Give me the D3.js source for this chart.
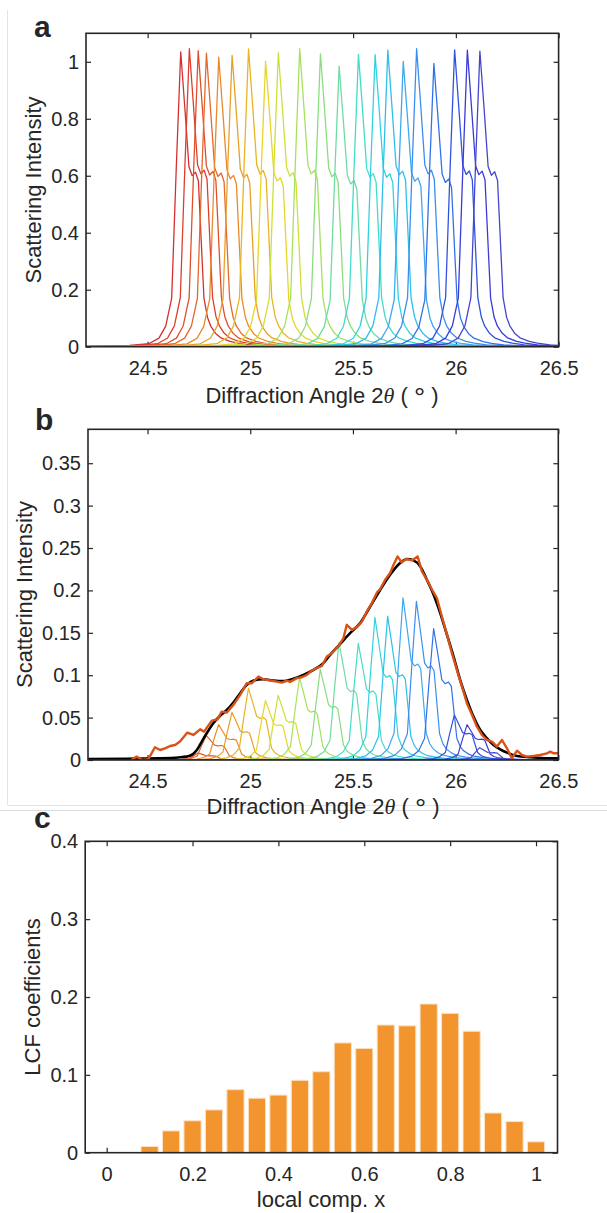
<!DOCTYPE html>
<html><head><meta charset="utf-8">
<script src="https://cdn.jsdelivr.net/npm/d3@7"></script>
<style>
body{margin:0;background:#fff}
svg{display:block}
text{font-family:"Liberation Sans",Arial,sans-serif;fill:#262626}
</style>
</head><body>
<svg id="chart" width="607" height="1213"></svg>
<script>
// ---------------- DATA ----------------
// local composition x of each reference profile (also bar positions in panel c)
const compositions = [0,0.05,0.1,0.15,0.2,0.25,0.3,0.35,0.4,0.45,0.5,0.55,0.6,0.65,0.7,0.75,0.8,0.85,0.9,0.95,1];
// peak position (2theta, deg) of each reference profile (panel a)
const peakCenters = [24.661,24.703,24.746,24.786,24.846,24.911,24.991,25.074,25.136,25.240,25.341,25.432,25.526,25.607,25.669,25.744,25.809,25.893,25.994,26.056,26.117];
// peak height of each reference profile (panel a)
const peakHeights = [1.035,1.046,1.039,1.030,1.016,1.022,1.045,1.002,1.032,1.046,1.028,0.985,1.026,1.025,1.041,1.001,1.046,0.994,1.042,1.041,1.037];
// common line shape of a reference profile: offset from peak (deg) and relative intensity
const profileOffset = [-2.4,-0.6,-0.35,-0.25,-0.155,-0.106,-0.073,-0.044,-0.022,0,0.021,0.04,0.056,0.072,0.086,0.10,0.113,0.13,0.146,0.17,0.195,0.24,0.28,0.34,0.45,0.7,2.4];
const profileValue  = [0,0.0005,0.002,0.004,0.010,0.029,0.070,0.165,0.60,1.0,0.80,0.61,0.58,0.592,0.562,0.355,0.165,0.10,0.07,0.045,0.03,0.018,0.012,0.006,0.003,0.001,0];
// LCF coefficients (panel c), one per composition
const lcfCoefficients = [0,0,0.008,0.028,0.041,0.055,0.081,0.070,0.074,0.093,0.104,0.141,0.134,0.164,0.163,0.191,0.179,0.156,0.051,0.040,0.014];
// measured profile (orange, panel b): [2theta, intensity]
const measuredProfile = [[24.42,0],[24.447,0.004],[24.475,0],[24.504,0.001],[24.536,0.015],[24.561,0.0118],[24.585,0.0138],[24.610,0.0165],[24.634,0.0177],[24.658,0.0217],[24.694,0.0323],[24.723,0.0295],[24.756,0.0362],[24.775,0.0335],[24.813,0.0465],[24.840,0.048],[24.861,0.057],[24.886,0.056],[24.918,0.065],[24.951,0.0768],[24.983,0.0906],[25.008,0.0906],[25.040,0.0984],[25.064,0.0953],[25.097,0.0937],[25.129,0.0925],[25.154,0.0913],[25.178,0.0937],[25.194,0.0921],[25.227,0.0965],[25.251,0.0976],[25.276,0.1004],[25.300,0.1055],[25.324,0.1083],[25.349,0.111],[25.373,0.122],[25.397,0.126],[25.430,0.1346],[25.454,0.1437],[25.470,0.1594],[25.495,0.1535],[25.519,0.1567],[25.544,0.1634],[25.568,0.1752],[25.592,0.185],[25.617,0.1976],[25.633,0.2016],[25.657,0.2126],[25.681,0.2205],[25.698,0.2303],[25.717,0.2401],[25.738,0.233],[25.759,0.237],[25.787,0.2354],[25.815,0.2401],[25.836,0.2224],[25.860,0.2126],[25.885,0.2008],[25.909,0.191],[25.933,0.1693],[25.958,0.1476],[25.982,0.126],[26.006,0.1063],[26.031,0.0866],[26.055,0.067],[26.080,0.0531],[26.104,0.0393],[26.128,0.0295],[26.153,0.0236],[26.177,0.0217],[26.201,0.0158],[26.226,0.0236],[26.250,0.0138],[26.274,0.002],[26.299,0.011],[26.323,0.0059],[26.347,0.004],[26.380,0.0047],[26.412,0.0059],[26.445,0.0079],[26.461,0.0098],[26.477,0.0079],[26.5,0.0079]];
// fitted profile (black, panel b): [2theta, intensity]
const fittedProfile = [[24.21,0.001],[24.40,0.0015],[24.55,0.002],[24.65,0.003],[24.69,0.004],[24.715,0.006],[24.74,0.0118],[24.764,0.0217],[24.788,0.0315],[24.82,0.0433],[24.853,0.052],[24.886,0.059],[24.918,0.0677],[24.951,0.0787],[24.983,0.0886],[25.016,0.0937],[25.064,0.0953],[25.113,0.0937],[25.161,0.093],[25.21,0.0957],[25.259,0.1004],[25.308,0.1063],[25.356,0.1142],[25.389,0.124],[25.438,0.137],[25.486,0.1496],[25.535,0.1614],[25.584,0.181],[25.633,0.2008],[25.681,0.2185],[25.73,0.2323],[25.763,0.237],[25.795,0.2354],[25.828,0.2283],[25.86,0.2126],[25.893,0.1949],[25.925,0.1733],[25.958,0.1476],[25.99,0.122],[26.022,0.0945],[26.055,0.0709],[26.087,0.0512],[26.12,0.0354],[26.153,0.0256],[26.185,0.0177],[26.217,0.0126],[26.25,0.0087],[26.299,0.0047],[26.364,0.0032],[26.445,0.002],[26.5,0.002]];
// tick values
const thetaTicks = [24.5,25,25.5,26,26.5];
const intensityTicksA = [0,0.2,0.4,0.6,0.8,1];
const intensityTicksB = [0,0.05,0.1,0.15,0.2,0.25,0.3,0.35];
const compTicks = [0,0.2,0.4,0.6,0.8,1];
const coefTicks = [0,0.1,0.2,0.3,0.4];

// ---------------- STYLE ----------------
const palette = ["#d43030","#de3e2c","#e0502a","#e4682a","#e88a2c","#e8a028","#e8b424","#e6d628","#cde03a","#a6e05e","#8cdc82","#6edca4","#44dcc8","#30d2e0","#2cc0ea","#3ea8f0","#3a8ef0","#3272e8","#3052e0","#3a3ad8","#4646cc"];
const ink = "#262626";
const svg = d3.select("#chart");

// light figure-composition borders
svg.append("line").attr("x1",7.5).attr("x2",7.5).attr("y1",10).attr("y2",805).attr("stroke","#e4e4e4").attr("stroke-width",1);
svg.append("line").attr("x1",7.5).attr("x2",607).attr("y1",805.5).attr("y2",805.5).attr("stroke","#e4e4e4").attr("stroke-width",1);
svg.append("line").attr("x1",0).attr("x2",607).attr("y1",810.5).attr("y2",810.5).attr("stroke","#dcdcdc").attr("stroke-width",1);

function frame(x, y, xt, yt, id) {
  const [x0,x1] = x.range(), [y0,y1] = y.range();
  const g = svg.append("g");
  const style = a => {
    a.select(".domain").remove();
    a.attr("font-size",20).attr("font-family","Liberation Sans, Arial, sans-serif");
    a.selectAll("line").attr("stroke",ink).attr("stroke-width",1.2);
    a.selectAll("text").attr("fill",ink);
  };
  g.append("g").attr("transform",`translate(0,${y0})`)
    .call(d3.axisBottom(x).tickValues(xt).tickSize(-5).tickSizeOuter(0).tickPadding(14).tickFormat(d=>String(d))).call(style);
  g.append("g").attr("transform",`translate(0,${y1})`)
    .call(d3.axisTop(x).tickValues(xt).tickSize(-5).tickSizeOuter(0).tickFormat("")).call(style);
  g.append("g").attr("transform",`translate(${x0},0)`)
    .call(d3.axisLeft(y).tickValues(yt).tickSize(-5).tickSizeOuter(0).tickPadding(7).tickFormat(d=>String(d))).call(style);
  g.append("g").attr("transform",`translate(${x1},0)`)
    .call(d3.axisRight(y).tickValues(yt).tickSize(-5).tickSizeOuter(0).tickFormat("")).call(style);
  svg.append("clipPath").attr("id",id).append("rect")
    .attr("x",x0).attr("y",y1).attr("width",x1-x0).attr("height",y0-y1);
  return g;
}
function box(x,y){
  const [x0,x1] = x.range(), [y0,y1] = y.range();
  svg.append("rect").attr("x",x0).attr("y",y1).attr("width",x1-x0).attr("height",y0-y1)
    .attr("fill","none").attr("stroke",ink).attr("stroke-width",1.6);
}
function thetaTitle(cx, yb){
  const t = svg.append("text").attr("x",cx).attr("y",yb).attr("text-anchor","middle").attr("font-size",22);
  t.append("tspan").text("Diffraction Angle 2");
  t.append("tspan").attr("font-style","italic").attr("font-family","Liberation Serif, serif").text("θ");
  t.append("tspan").text(" ( ");
  t.append("tspan").attr("font-size",28).attr("dy",4).text("°");
  t.append("tspan").attr("dy",-4).text(" )");
}
function yTitle(xb, cy, txt){
  svg.append("text").attr("transform",`translate(${xb},${cy}) rotate(-90)`)
    .attr("text-anchor","middle").attr("font-size",22).text(txt);
}
function panelLabel(x,y,t){
  svg.append("text").attr("x",x).attr("y",y).attr("font-size",30).attr("font-weight","bold")
    .attr("font-family","DejaVu Sans, Liberation Sans, sans-serif").attr("fill","#000").text(t);
}
const profilePoints = (i, scale) => profileOffset.map((d,k)=>[peakCenters[i]+d, peakHeights[i]*profileValue[k]*scale]);

// ---------------- PANEL A ----------------
const xA = d3.scaleLinear().domain([24.2,26.5]).range([86,558.6]);
const yA = d3.scaleLinear().domain([0,1.1]).range([346.7,33.3]);
frame(xA,yA,thetaTicks,intensityTicksA,"clipA");
const lineA = d3.line().x(d=>xA(d[0])).y(d=>yA(d[1]));
svg.append("g").attr("clip-path","url(#clipA)").selectAll("path").data(compositions).join("path")
  .attr("d",(c,i)=>lineA(profilePoints(i,1))).attr("fill","none")
  .attr("stroke",(c,i)=>palette[i]).attr("stroke-width",1.3).attr("stroke-linejoin","round");
box(xA,yA);
thetaTitle(322,402.5);
yTitle(41,190,"Scattering Intensity");
panelLabel(34,37,"a");

// ---------------- PANEL B ----------------
const xB = d3.scaleLinear().domain([24.21,26.5]).range([88,558.3]);
const yB = d3.scaleLinear().domain([0,0.39]).range([760,429.3]);
frame(xB,yB,thetaTicks,intensityTicksB,"clipB");
const lineB = d3.line().x(d=>xB(d[0])).y(d=>yB(d[1]));
const gB = svg.append("g").attr("clip-path","url(#clipB)");
gB.selectAll("path.comp").data(compositions).join("path").attr("class","comp")
  .attr("d",(c,i)=>lineB(profilePoints(i,lcfCoefficients[i]))).attr("fill","none")
  .attr("stroke",(c,i)=>palette[i]).attr("stroke-width",1.2).attr("stroke-linejoin","round");
gB.append("path").datum(fittedProfile).attr("d",d3.line().x(d=>xB(d[0])).y(d=>yB(d[1])).curve(d3.curveMonotoneX))
  .attr("fill","none").attr("stroke","#000").attr("stroke-width",2.6);
gB.append("path").datum(measuredProfile).attr("d",d3.line().x(d=>xB(d[0])).y(d=>yB(d[1])))
  .attr("fill","none").attr("stroke","#d95319").attr("stroke-width",2.4).attr("stroke-linejoin","round");
box(xB,yB);
thetaTitle(323,814);
yTitle(31.5,594.5,"Scattering Intensity");
panelLabel(35,430,"b");

// ---------------- PANEL C ----------------
const xC = d3.scaleLinear().domain([-0.05,1.05]).range([85.2,557.5]);
const yC = d3.scaleLinear().domain([0,0.4]).range([1152.7,841.3]);
frame(xC,yC,compTicks,coefTicks,"clipC");
const bw = (xC(0.05)-xC(0))*0.8;
svg.append("g").selectAll("rect").data(compositions.map((c,i)=>[c,lcfCoefficients[i]]).filter(d=>d[1]>0)).join("rect")
  .attr("x",d=>xC(d[0])-bw/2).attr("width",bw)
  .attr("y",d=>yC(d[1])).attr("height",d=>yC(0)-yC(d[1]))
  .attr("fill","#f2952f").attr("stroke","#fbe2c4").attr("stroke-width",1);
box(xC,yC);
svg.append("text").attr("x",321).attr("y",1207).attr("text-anchor","middle").attr("font-size",22).text("local comp. x");
yTitle(39.5,997,"LCF coefficients");
panelLabel(34,828,"c");
</script>
</body></html>
